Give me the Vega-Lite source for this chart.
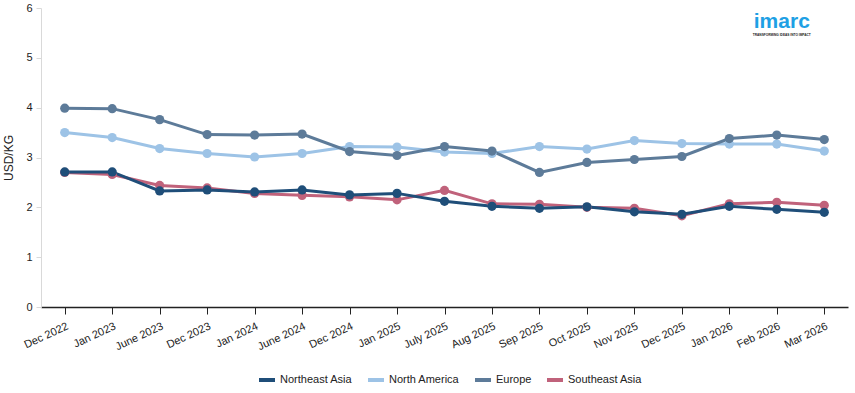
{
  "$schema": "https://vega.github.io/schema/vega-lite/v6.json",
  "autosize": {"type": "none"},
  "width": 807,
  "height": 299,
  "padding": {"left": 41, "top": 8, "right": 7, "bottom": 86},
  "background": "white",
  "config": {
    "view": {"stroke": null},
    "font": "Liberation Sans",
    "axis": {"labelFont": "Liberation Sans", "titleFont": "Liberation Sans", "labelFontSize": 11, "labelColor": "#222222", "titleColor": "#222222", "grid": false},
    "legend": {"labelFont": "Liberation Sans", "labelFontSize": 11, "labelColor": "#222222"}
  },
  "datasets": {
    "prices": [
      {"date": "Dec 2022", "region": "Southeast Asia", "value": 2.70},
      {"date": "Jan 2023", "region": "Southeast Asia", "value": 2.66},
      {"date": "June 2023", "region": "Southeast Asia", "value": 2.44},
      {"date": "Dec 2023", "region": "Southeast Asia", "value": 2.39},
      {"date": "Jan 2024", "region": "Southeast Asia", "value": 2.28},
      {"date": "June 2024", "region": "Southeast Asia", "value": 2.24},
      {"date": "Dec 2024", "region": "Southeast Asia", "value": 2.21},
      {"date": "Jan 2025", "region": "Southeast Asia", "value": 2.15},
      {"date": "July 2025", "region": "Southeast Asia", "value": 2.34},
      {"date": "Aug 2025", "region": "Southeast Asia", "value": 2.07},
      {"date": "Sep 2025", "region": "Southeast Asia", "value": 2.06},
      {"date": "Oct 2025", "region": "Southeast Asia", "value": 2.00},
      {"date": "Nov 2025", "region": "Southeast Asia", "value": 1.98},
      {"date": "Dec 2025", "region": "Southeast Asia", "value": 1.83},
      {"date": "Jan 2026", "region": "Southeast Asia", "value": 2.07},
      {"date": "Feb 2026", "region": "Southeast Asia", "value": 2.10},
      {"date": "Mar 2026", "region": "Southeast Asia", "value": 2.04},
      {"date": "Dec 2022", "region": "North America", "value": 3.50},
      {"date": "Jan 2023", "region": "North America", "value": 3.40},
      {"date": "June 2023", "region": "North America", "value": 3.18},
      {"date": "Dec 2023", "region": "North America", "value": 3.08},
      {"date": "Jan 2024", "region": "North America", "value": 3.01},
      {"date": "June 2024", "region": "North America", "value": 3.08},
      {"date": "Dec 2024", "region": "North America", "value": 3.22},
      {"date": "Jan 2025", "region": "North America", "value": 3.21},
      {"date": "July 2025", "region": "North America", "value": 3.11},
      {"date": "Aug 2025", "region": "North America", "value": 3.08},
      {"date": "Sep 2025", "region": "North America", "value": 3.22},
      {"date": "Oct 2025", "region": "North America", "value": 3.17},
      {"date": "Nov 2025", "region": "North America", "value": 3.34},
      {"date": "Dec 2025", "region": "North America", "value": 3.28},
      {"date": "Jan 2026", "region": "North America", "value": 3.27},
      {"date": "Feb 2026", "region": "North America", "value": 3.27},
      {"date": "Mar 2026", "region": "North America", "value": 3.13},
      {"date": "Dec 2022", "region": "Europe", "value": 3.99},
      {"date": "Jan 2023", "region": "Europe", "value": 3.98},
      {"date": "June 2023", "region": "Europe", "value": 3.76},
      {"date": "Dec 2023", "region": "Europe", "value": 3.46},
      {"date": "Jan 2024", "region": "Europe", "value": 3.45},
      {"date": "June 2024", "region": "Europe", "value": 3.47},
      {"date": "Dec 2024", "region": "Europe", "value": 3.12},
      {"date": "Jan 2025", "region": "Europe", "value": 3.04},
      {"date": "July 2025", "region": "Europe", "value": 3.22},
      {"date": "Aug 2025", "region": "Europe", "value": 3.13},
      {"date": "Sep 2025", "region": "Europe", "value": 2.70},
      {"date": "Oct 2025", "region": "Europe", "value": 2.90},
      {"date": "Nov 2025", "region": "Europe", "value": 2.96},
      {"date": "Dec 2025", "region": "Europe", "value": 3.02},
      {"date": "Jan 2026", "region": "Europe", "value": 3.38},
      {"date": "Feb 2026", "region": "Europe", "value": 3.45},
      {"date": "Mar 2026", "region": "Europe", "value": 3.36},
      {"date": "Dec 2022", "region": "Northeast Asia", "value": 2.71},
      {"date": "Jan 2023", "region": "Northeast Asia", "value": 2.71},
      {"date": "June 2023", "region": "Northeast Asia", "value": 2.33},
      {"date": "Dec 2023", "region": "Northeast Asia", "value": 2.35},
      {"date": "Jan 2024", "region": "Northeast Asia", "value": 2.31},
      {"date": "June 2024", "region": "Northeast Asia", "value": 2.35},
      {"date": "Dec 2024", "region": "Northeast Asia", "value": 2.25},
      {"date": "Jan 2025", "region": "Northeast Asia", "value": 2.28},
      {"date": "July 2025", "region": "Northeast Asia", "value": 2.12},
      {"date": "Aug 2025", "region": "Northeast Asia", "value": 2.02},
      {"date": "Sep 2025", "region": "Northeast Asia", "value": 1.98},
      {"date": "Oct 2025", "region": "Northeast Asia", "value": 2.01},
      {"date": "Nov 2025", "region": "Northeast Asia", "value": 1.91},
      {"date": "Dec 2025", "region": "Northeast Asia", "value": 1.86},
      {"date": "Jan 2026", "region": "Northeast Asia", "value": 2.02},
      {"date": "Feb 2026", "region": "Northeast Asia", "value": 1.96},
      {"date": "Mar 2026", "region": "Northeast Asia", "value": 1.90}
    ],
    "logo": [{"brand": "imarc", "tagline": "TRANSFORMING IDEAS INTO IMPACT"}]
  },
  "layer": [
    {
      "data": {"name": "prices"},
      "mark": {"type": "line", "strokeWidth": 3, "point": {"filled": true, "size": 85}},
      "encoding": {
        "x": {
          "field": "date", "type": "ordinal", "sort": null,
          "scale": {"type": "point", "padding": 0.5},
          "axis": {"title": null, "labelAngle": -25, "labelAlign": "right", "labelBaseline": "top", "domainColor": "#222222", "domainWidth": 1.5, "tickColor": "#222222", "tickSize": 7, "tickWidth": 1, "labelPadding": 6}
        },
        "y": {
          "field": "value", "type": "quantitative",
          "scale": {"domain": [0, 6], "nice": false},
          "axis": {"title": "USD/KG", "titleFontSize": 12, "titleFontWeight": "normal", "titlePadding": 10, "values": [0, 1, 2, 3, 4, 5, 6], "domainColor": "#d9d9d9", "tickColor": "#d9d9d9", "tickSize": 5, "labelPadding": 4}
        },
        "color": {
          "field": "region", "type": "nominal",
          "scale": {"domain": ["Northeast Asia", "North America", "Europe", "Southeast Asia"], "range": ["#1f4e79", "#9dc3e6", "#5d7b99", "#c0627b"]},
          "legend": {"title": null, "orient": "none", "legendX": 216, "legendY": 362, "direction": "horizontal", "symbolType": "stroke", "symbolSize": 256, "symbolStrokeWidth": 4, "labelOffset": 3, "columnPadding": 7, "padding": 0}
        }
      }
    },
    {
      "data": {"name": "logo"},
      "mark": {"type": "text", "font": "Liberation Sans", "fontSize": 21, "fontWeight": "bold", "color": "#1ea0e4", "align": "center", "baseline": "alphabetic", "dx": 5},
      "encoding": {
        "x": {"datum": "Feb 2026"},
        "y": {"datum": 5.6},
        "text": {"field": "brand"}
      }
    },
    {
      "data": {"name": "logo"},
      "mark": {"type": "text", "font": "Liberation Sans", "fontSize": 3.2, "fontWeight": "bold", "color": "#222222", "align": "center", "baseline": "middle", "dx": 5},
      "encoding": {
        "x": {"datum": "Feb 2026"},
        "y": {"datum": 5.46},
        "text": {"field": "tagline"}
      }
    }
  ]
}
